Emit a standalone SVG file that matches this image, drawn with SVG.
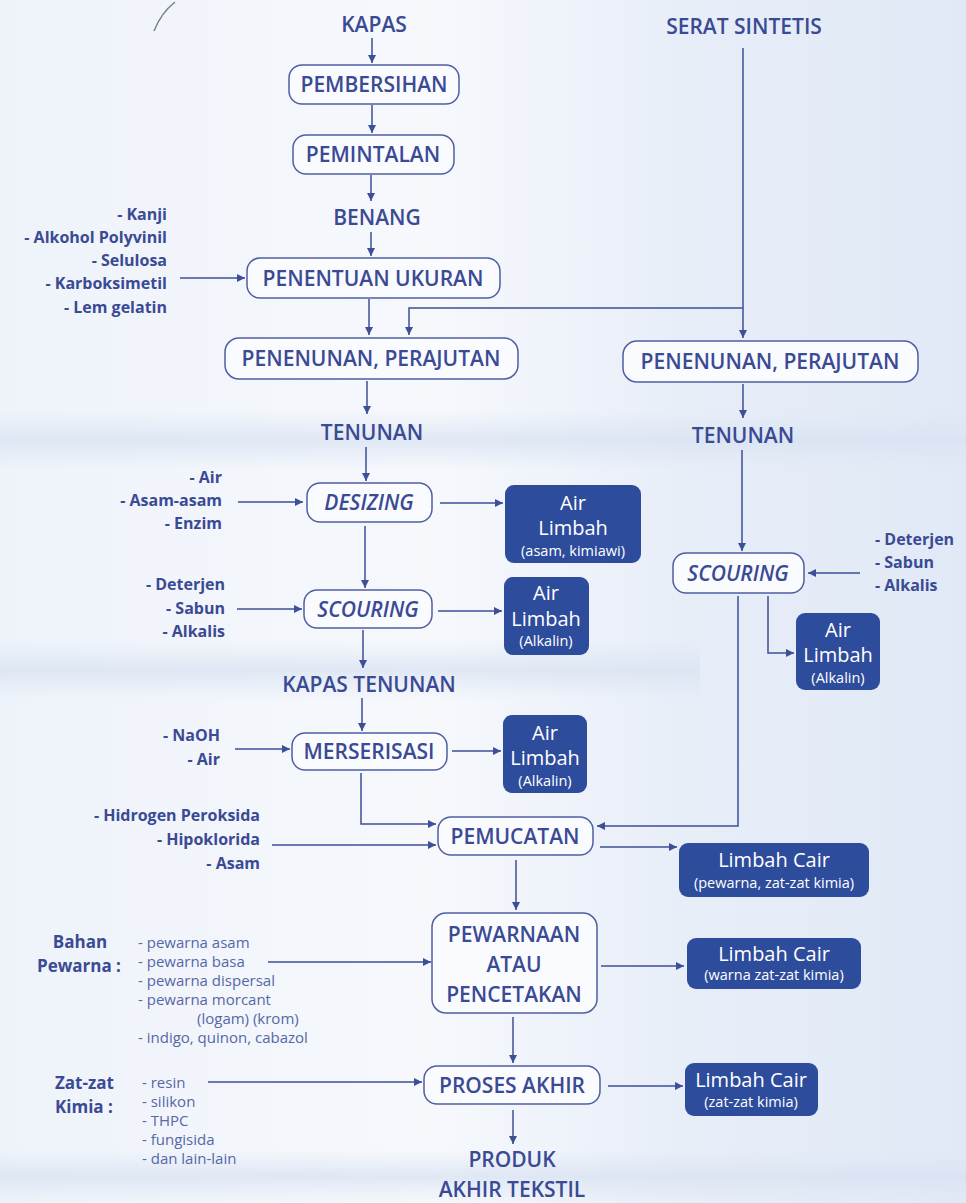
<svg xmlns="http://www.w3.org/2000/svg" width="966" height="1203" viewBox="0 0 966 1203">
<defs>
<linearGradient id="bg" x1="0" y1="0" x2="1" y2="0">
<stop offset="0" stop-color="#eef3fa"/>
<stop offset="0.45" stop-color="#f6f8fc"/>
<stop offset="0.7" stop-color="#e8eef8"/>
<stop offset="1" stop-color="#e0e9f6"/>
</linearGradient>
<linearGradient id="band" x1="0" y1="0" x2="0" y2="1">
<stop offset="0" stop-color="#dbe5f3" stop-opacity="0"/>
<stop offset="0.5" stop-color="#d6e1f1" stop-opacity="0.7"/>
<stop offset="1" stop-color="#dbe5f3" stop-opacity="0"/>
</linearGradient>
<marker id="ah" viewBox="0 0 10 10" refX="10" refY="5" markerWidth="9" markerHeight="8" markerUnits="userSpaceOnUse" orient="auto">
<path d="M0 0 L10 5 L0 10 z" fill="#3d4f98"/>
</marker>
<style>
.t{font-family:"Open Sans","DejaVu Sans",sans-serif;fill:#3a4a94;}
.lbl{font-size:21px;font-weight:600;text-anchor:middle;}
.it{font-style:italic;}
.in{font-size:16px;font-weight:bold;text-anchor:end;}
.inl{font-size:16px;font-weight:bold;text-anchor:start;}
.sm{font-size:15px;fill:#5567a8;}
.hd{font-size:17px;font-weight:bold;}
.box{fill:#fafbfe;stroke:#4f5fa2;stroke-width:1.5;}
.dk{fill:#2e4c9c;}
.w{font-family:"Open Sans","DejaVu Sans",sans-serif;fill:#ffffff;text-anchor:middle;}
.w1{font-size:20px;}
.w2{font-size:14.5px;}
.c{fill:none;stroke:#3d4f98;stroke-width:1.5;}
</style>
</defs>
<rect width="966" height="1203" fill="url(#bg)"/>
<rect x="0" y="410" width="966" height="60" fill="url(#band)"/>
<rect x="0" y="640" width="700" height="60" fill="url(#band)"/>
<rect x="0" y="1150" width="966" height="53" fill="url(#band)"/>
<path d="M175 2 Q161 13 154 31" fill="none" stroke="#7a7f8c" stroke-width="1.5"/>

<g id="connectors">
<path class="c" marker-end="url(#ah)" d="M372 38 V63"/>
<path class="c" marker-end="url(#ah)" d="M372 105 V133"/>
<path class="c" marker-end="url(#ah)" d="M371 175 V201"/>
<path class="c" marker-end="url(#ah)" d="M371 232 V256"/>
<path class="c" marker-end="url(#ah)" d="M180 278 H245"/>
<path class="c" marker-end="url(#ah)" d="M369 299 V335"/>
<path class="c" marker-end="url(#ah)" d="M743 48 V338"/>
<path class="c" marker-end="url(#ah)" d="M743 308 H409 V335"/>
<path class="c" marker-end="url(#ah)" d="M367 381 V414"/>
<path class="c" marker-end="url(#ah)" d="M366 447 V481"/>
<path class="c" marker-end="url(#ah)" d="M238 502 H303"/>
<path class="c" marker-end="url(#ah)" d="M440 503 H503"/>
<path class="c" marker-end="url(#ah)" d="M365 526 V588"/>
<path class="c" marker-end="url(#ah)" d="M237 609 H302"/>
<path class="c" marker-end="url(#ah)" d="M438 611 H502"/>
<path class="c" marker-end="url(#ah)" d="M363 630 V668"/>
<path class="c" marker-end="url(#ah)" d="M362 698 V731"/>
<path class="c" marker-end="url(#ah)" d="M235 749 H290"/>
<path class="c" marker-end="url(#ah)" d="M452 751 H501"/>
<path class="c" marker-end="url(#ah)" d="M361 773 V824 H436"/>
<path class="c" marker-end="url(#ah)" d="M272 845 H436"/>
<path class="c" marker-end="url(#ah)" d="M743 384 V418"/>
<path class="c" marker-end="url(#ah)" d="M742 450 V551"/>
<path class="c" marker-end="url(#ah)" d="M860 573 H808"/>
<path class="c" marker-end="url(#ah)" d="M768 596 V653 H794"/>
<path class="c" marker-end="url(#ah)" d="M738 596 V826 H597"/>
<path class="c" marker-end="url(#ah)" d="M600 847 H677"/>
<path class="c" marker-end="url(#ah)" d="M516 860 V910"/>
<path class="c" marker-end="url(#ah)" d="M268 962 H431"/>
<path class="c" marker-end="url(#ah)" d="M601 966 H684"/>
<path class="c" marker-end="url(#ah)" d="M513 1017 V1063"/>
<path class="c" marker-end="url(#ah)" d="M208 1082 H422"/>
<path class="c" marker-end="url(#ah)" d="M608 1086 H683"/>
<path class="c" marker-end="url(#ah)" d="M513 1110 V1144"/>
</g>

<g id="kapas"><text class="t lbl" x="374" y="32">KAPAS</text></g>
<g id="serat"><text class="t lbl" x="744" y="34">SERAT SINTETIS</text></g>
<g id="pembersihan"><rect class="box" x="289" y="65" width="170" height="39" rx="13"/><text class="t lbl" x="374" y="92">PEMBERSIHAN</text></g>
<g id="pemintalan"><rect class="box" x="293" y="135" width="161" height="39" rx="13"/><text class="t lbl" x="373" y="162">PEMINTALAN</text></g>
<g id="benang"><text class="t lbl" x="377" y="225">BENANG</text></g>
<g id="ukuran"><rect class="box" x="247" y="258" width="253" height="40" rx="13"/><text class="t lbl" x="373" y="286">PENENTUAN UKURAN</text></g>
<g id="in-ukuran">
<text class="t in" x="167" y="220">- Kanji</text>
<text class="t in" x="167" y="243">- Alkohol Polyvinil</text>
<text class="t in" x="167" y="266">- Selulosa</text>
<text class="t in" x="167" y="289">- Karboksimetil</text>
<text class="t in" x="167" y="313">- Lem gelatin</text>
</g>
<g id="tenun-l"><rect class="box" x="225" y="338" width="293" height="41" rx="14"/><text class="t lbl" x="371" y="366">PENENUNAN, PERAJUTAN</text></g>
<g id="tenun-r"><rect class="box" x="623" y="341" width="295" height="41" rx="14"/><text class="t lbl" x="770" y="369">PENENUNAN, PERAJUTAN</text></g>
<g id="tenunan-l"><text class="t lbl" x="372" y="440">TENUNAN</text></g>
<g id="tenunan-r"><text class="t lbl" x="743" y="443">TENUNAN</text></g>
<g id="desizing"><rect class="box" x="307" y="483" width="125" height="39" rx="13"/><text class="t lbl it" x="369" y="510">DESIZING</text></g>
<g id="in-desizing">
<text class="t in" x="222" y="483">- Air</text>
<text class="t in" x="222" y="506">- Asam-asam</text>
<text class="t in" x="222" y="529">- Enzim</text>
</g>
<g id="al1"><rect class="dk" x="505" y="485" width="136" height="78" rx="9"/>
<text class="w w1" x="573" y="510">Air</text><text class="w w1" x="573" y="535">Limbah</text><text class="w w2" x="573" y="556">(asam, kimiawi)</text></g>
<g id="scouring-l"><rect class="box" x="304" y="590" width="128" height="38" rx="13"/><text class="t lbl it" x="368" y="617">SCOURING</text></g>
<g id="in-scouring-l">
<text class="t in" x="225" y="590">- Deterjen</text>
<text class="t in" x="225" y="614">- Sabun</text>
<text class="t in" x="225" y="637">- Alkalis</text>
</g>
<g id="al2"><rect class="dk" x="504" y="577" width="85" height="78" rx="9"/>
<text class="w w1" x="546" y="600">Air</text><text class="w w1" x="546" y="626">Limbah</text><text class="w w2" x="546" y="646">(Alkalin)</text></g>
<g id="scouring-r"><rect class="box" x="673" y="553" width="131" height="40" rx="13"/><text class="t lbl it" x="738" y="581">SCOURING</text></g>
<g id="in-scouring-r">
<text class="t inl" x="875" y="545">- Deterjen</text>
<text class="t inl" x="875" y="568">- Sabun</text>
<text class="t inl" x="875" y="591">- Alkalis</text>
</g>
<g id="al3"><rect class="dk" x="796" y="613" width="84" height="77" rx="9"/>
<text class="w w1" x="838" y="637">Air</text><text class="w w1" x="838" y="662">Limbah</text><text class="w w2" x="838" y="683">(Alkalin)</text></g>
<g id="kapas-tenunan"><text class="t lbl" x="369" y="692">KAPAS TENUNAN</text></g>
<g id="merserisasi"><rect class="box" x="292" y="733" width="155" height="37" rx="13"/><text class="t lbl" x="369" y="759">MERSERISASI</text></g>
<g id="in-mers">
<text class="t in" x="220" y="741">- NaOH</text>
<text class="t in" x="220" y="765">- Air</text>
</g>
<g id="al4"><rect class="dk" x="503" y="715" width="84" height="78" rx="9"/>
<text class="w w1" x="545" y="740">Air</text><text class="w w1" x="545" y="765">Limbah</text><text class="w w2" x="545" y="786">(Alkalin)</text></g>
<g id="pemucatan"><rect class="box" x="438" y="817" width="155" height="38" rx="13"/><text class="t lbl" x="515" y="844">PEMUCATAN</text></g>
<g id="in-pemucatan">
<text class="t in" x="260" y="821">- Hidrogen Peroksida</text>
<text class="t in" x="260" y="845">- Hipoklorida</text>
<text class="t in" x="260" y="869">- Asam</text>
</g>
<g id="lc1"><rect class="dk" x="679" y="843" width="190" height="54" rx="9"/>
<text class="w w1" x="774" y="867">Limbah Cair</text><text class="w w2" x="774" y="888">(pewarna, zat-zat kimia)</text></g>
<g id="pewarnaan"><rect class="box" x="432" y="913" width="165" height="100" rx="14"/>
<text class="t lbl" x="514" y="942">PEWARNAAN</text><text class="t lbl" x="514" y="972">ATAU</text><text class="t lbl" x="514" y="1002">PENCETAKAN</text></g>
<g id="in-pewarna">
<text class="t hd" x="80" y="948" text-anchor="middle">Bahan</text>
<text class="t hd" x="37" y="972">Pewarna :</text>
<text class="t sm" x="138" y="948">- pewarna asam</text>
<text class="t sm" x="138" y="967">- pewarna basa</text>
<text class="t sm" x="138" y="986">- pewarna dispersal</text>
<text class="t sm" x="138" y="1005">- pewarna morcant</text>
<text class="t sm" x="197" y="1024">(logam) (krom)</text>
<text class="t sm" x="138" y="1043">- indigo, quinon, cabazol</text>
</g>
<g id="lc2"><rect class="dk" x="687" y="938" width="174" height="51" rx="9"/>
<text class="w w1" x="774" y="961">Limbah Cair</text><text class="w w2" x="774" y="980">(warna zat-zat kimia)</text></g>
<g id="proses"><rect class="box" x="424" y="1066" width="176" height="38" rx="13"/><text class="t lbl" x="512" y="1093">PROSES AKHIR</text></g>
<g id="in-proses">
<text class="t hd" x="55" y="1089">Zat-zat</text>
<text class="t hd" x="55" y="1113">Kimia :</text>
<text class="t sm" x="142" y="1088">- resin</text>
<text class="t sm" x="142" y="1107">- silikon</text>
<text class="t sm" x="142" y="1126">- THPC</text>
<text class="t sm" x="142" y="1145">- fungisida</text>
<text class="t sm" x="142" y="1164">- dan lain-lain</text>
</g>
<g id="lc3"><rect class="dk" x="685" y="1063" width="133" height="53" rx="9"/>
<text class="w w1" x="751" y="1087">Limbah Cair</text><text class="w w2" x="751" y="1107">(zat-zat kimia)</text></g>
<g id="produk"><text class="t lbl" x="512" y="1167">PRODUK</text><text class="t lbl" x="512" y="1197">AKHIR TEKSTIL</text></g>
</svg>
